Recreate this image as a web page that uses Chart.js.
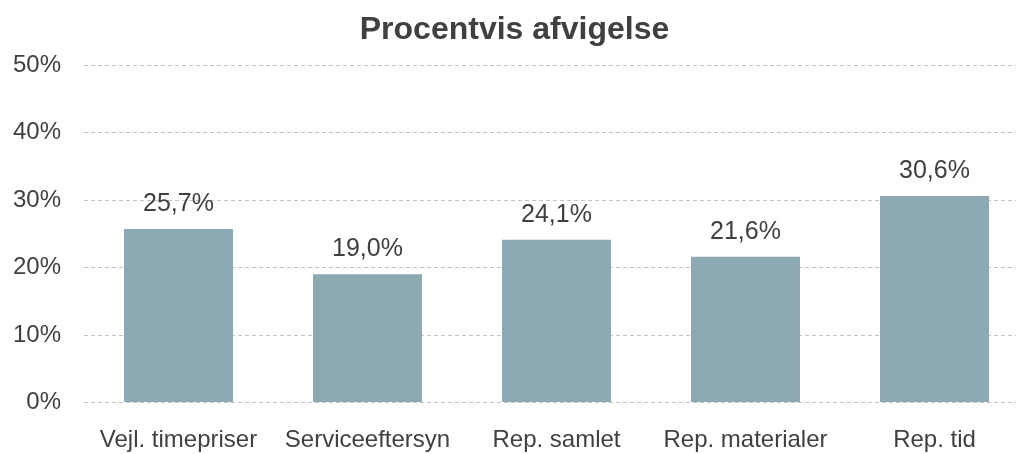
<!DOCTYPE html>
<html>
<head>
<meta charset="utf-8">
<script src="https://cdn.jsdelivr.net/npm/chart.js@4"></script>
<style>
  html, body { margin: 0; padding: 0; background: #fff; overflow: hidden; }
  #wrap { width: 1030px; height: 454px; }
</style>
</head>
<body>
<div id="wrap"><canvas id="chart"></canvas></div>
<script>
const categories = ["Vejl. timepriser", "Serviceeftersyn", "Rep. samlet", "Rep. materialer", "Rep. tid"];
const afvigelse = [25.7, 19.0, 24.1, 21.6, 30.6];
const yTicks = [0, 10, 20, 30, 40, 50];

const textColor = "#404040";
const fontFamily = "'Liberation Sans', Arial, sans-serif";

// values above the bars, danish decimal comma
const valueLabels = {
  id: "valueLabels",
  afterDatasetsDraw(chart) {
    const ctx = chart.ctx;
    const meta = chart.getDatasetMeta(0);
    ctx.save();
    ctx.font = "25px " + fontFamily;
    ctx.fillStyle = textColor;
    ctx.textAlign = "center";
    ctx.textBaseline = "middle";
    meta.data.forEach((bar, i) => {
      const txt = afvigelse[i].toFixed(1).replace(".", ",") + "%";
      ctx.fillText(txt, bar.x, bar.y - 25);
    });
    ctx.restore();
  }
};

const ctx = document.getElementById("chart").getContext("2d");

new Chart(ctx, {
  type: "bar",
  data: {
    labels: categories,
    datasets: [{
      data: afvigelse,
      backgroundColor: "rgb(141, 170, 180)",
      categoryPercentage: 1,
      barPercentage: 0.577
    }]
  },
  options: {
    responsive: true,
    maintainAspectRatio: false,
    animation: false,
    layout: { padding: { left: 0, right: 1, top: 0, bottom: 0 } },
    plugins: {
      legend: { display: false },
      tooltip: { enabled: false },
      title: {
        display: true,
        text: "Procentvis afvigelse",
        color: textColor,
        font: { family: fontFamily, size: 32, weight: "bold" },
        padding: { top: 10.8, bottom: 15.8 }
      }
    },
    scales: {
      y: {
        min: 0,
        max: 50,
        afterFit: (scale) => { scale.width = 84; },
        afterBuildTicks: (scale) => {
          scale.ticks = yTicks.map(v => ({ value: v }));
        },
        border: { display: false, dash: [4, 3] },
        grid: {
          color: "#c4c4c4",
          lineWidth: 1,
          drawTicks: false
        },
        ticks: {
          padding: 23,
          color: textColor,
          font: { family: fontFamily, size: 24 },
          callback: (v) => v + "%"
        }
      },
      x: {
        afterFit: (scale) => { scale.height = 51.5; },
        border: { display: false },
        grid: { display: false, drawTicks: false },
        ticks: {
          padding: 23,
          color: textColor,
          font: { family: fontFamily, size: 24 },
          maxRotation: 0
        }
      }
    }
  },
  plugins: [valueLabels]
});
</script>
</body>
</html>
